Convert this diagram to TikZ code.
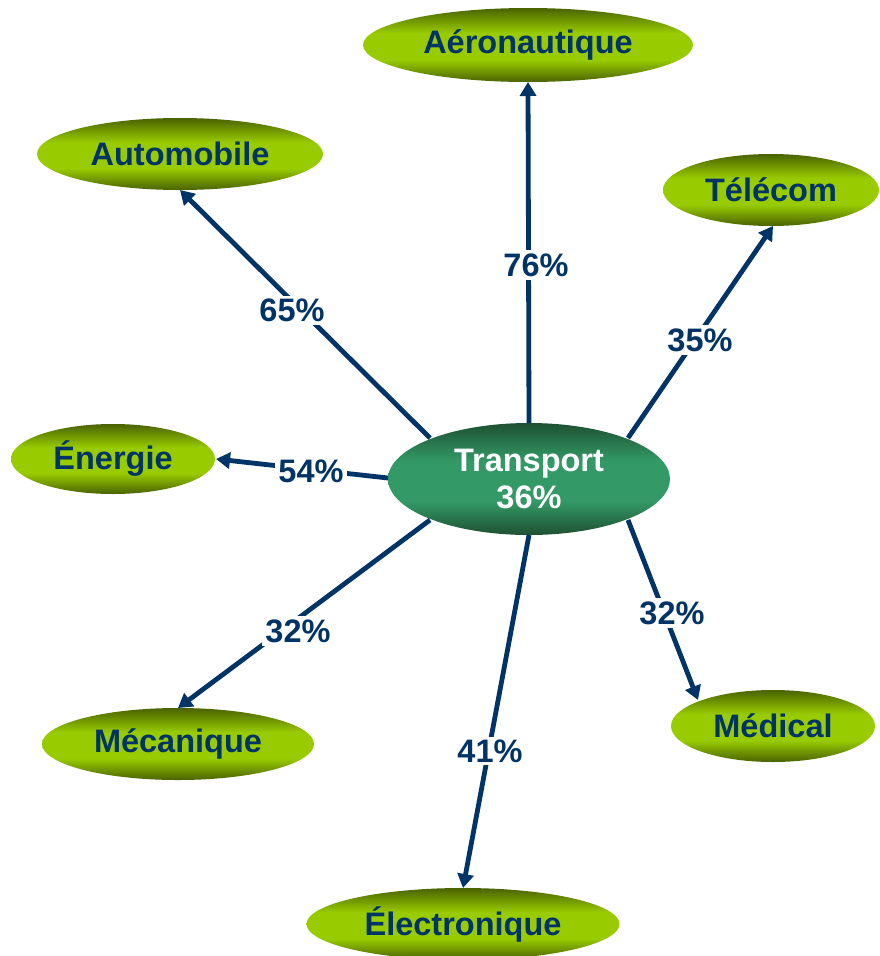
\documentclass[tikz,border=0pt]{standalone}
\usepackage{fontspec}
\setmainfont{Liberation Sans}
\usetikzlibrary{arrows.meta,shapes.geometric}
\definecolor{navy}{RGB}{0,51,102}
\definecolor{gdark}{RGB}{74,98,0}
\definecolor{glight}{RGB}{153,204,0}
\definecolor{tdark}{RGB}{30,80,50}
\definecolor{tlight}{RGB}{51,153,102}
\pgfdeclareverticalshading{greenell}{100bp}{color(0bp)=(gdark); color(25bp)=(gdark); color(40bp)=(glight); color(58bp)=(glight); color(75bp)=(gdark); color(100bp)=(gdark)}
\pgfdeclareverticalshading{transell}{100bp}{color(0bp)=(tdark); color(25bp)=(tdark); color(40bp)=(tlight); color(58bp)=(tlight); color(75bp)=(tdark); color(100bp)=(tdark)}
\tikzset{
  sector/.style={ellipse, inner sep=0pt, shading=greenell, font=\fontsize{32.5}{36}\selectfont\bfseries, text=navy},
  hub/.style={ellipse, inner sep=0pt, shading=transell, font=\fontsize{32.5}{37}\selectfont\bfseries, text=white, align=center},
  link/.style={draw=navy, line width=4.8pt, -{Triangle[length=14pt,width=16pt]}},
  pct/.style={fill=white, inner sep=3pt, font=\fontsize{32.5}{36}\selectfont\bfseries, text=navy}
}
\begin{document}
\begin{tikzpicture}[x=1pt,y=-1pt]
\useasboundingbox (0,0) rectangle (879,956);
\node[hub, minimum width=282pt, minimum height=112pt] (tr) at (529,479) {Transport\\36\%};
\node[sector, minimum width=330pt, minimum height=74pt] (aer) at (528,45) {Aéronautique};
\node[sector, minimum width=286pt, minimum height=72pt] (aut) at (180,154) {Automobile};
\node[sector, minimum width=216pt, minimum height=72pt] (tel) at (771,190) {Télécom};
\node[sector, minimum width=204pt, minimum height=70pt] (ene) at (113,459) {Énergie};
\node[sector, minimum width=272pt, minimum height=72pt] (mec) at (178,744) {Mécanique};
\node[sector, minimum width=204pt, minimum height=72pt] (med) at (773,726) {Médical};
\node[sector, minimum width=313pt, minimum height=72pt] (ele) at (463,924) {Électronique};
\coordinate (t1) at (529,423);
\coordinate (t2) at (430,438);
\coordinate (t3) at (628,438);
\coordinate (t4) at (388,478);
\coordinate (t5) at (430,520);
\coordinate (t6) at (529,535);
\coordinate (t7) at (628,520);
\coordinate (e1) at (528,82);
\coordinate (e2) at (180,190);
\coordinate (e3) at (773,226);
\coordinate (e4) at (216,459);
\coordinate (e5) at (178,708);
\coordinate (e6) at (463,888);
\coordinate (e7) at (698,700);
\draw[link] (t1) -- (e1);
\draw[link] (t2) -- (e2);
\draw[link] (t3) -- (e3);
\draw[link] (t4) -- (e4);
\draw[link] (t5) -- (e5);
\draw[link] (t6) -- (e6);
\draw[link] (t7) -- (e7);
\node[pct] (p1) at (536,265) {76\%};
\node[pct] (p2) at (292,310) {65\%};
\node[pct] (p3) at (700,340) {35\%};
\node[pct] (p4) at (311,471) {54\%};
\node[pct] (p5) at (298,631) {32\%};
\node[pct] (p6) at (490,751) {41\%};
\node[pct] (p7) at (672,613) {32\%};
\end{tikzpicture}
\end{document}
